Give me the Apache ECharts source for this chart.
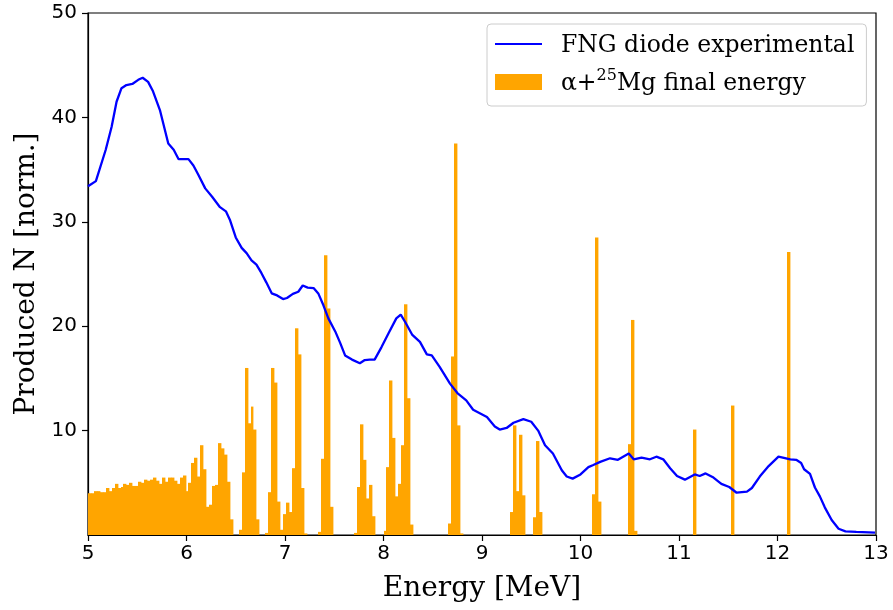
<!DOCTYPE html>
<html>
<head>
<meta charset="utf-8">
<script src="https://cdn.jsdelivr.net/npm/echarts@6/dist/echarts.min.js"></script>
<style>html,body{margin:0;padding:0;background:#fff;}#c{width:893px;height:610px;}</style>
</head>
<body>
<div id="c"></div>
<script>
// ---- Data ----
const binWidth = 0.03;
const binStart = [
  5.00, 5.03, 5.06, 5.09, 5.12, 5.15, 5.18, 5.21, 5.24, 5.27,
  5.30, 5.33, 5.36, 5.39, 5.42, 5.45, 5.48, 5.51, 5.54, 5.57,
  5.60, 5.63, 5.66, 5.69, 5.72, 5.75, 5.78, 5.81, 5.84, 5.87,
  5.90, 5.93, 5.96, 5.99, 6.02, 6.05, 6.08, 6.11, 6.14, 6.17,
  6.20, 6.23, 6.26, 6.29, 6.32, 6.35, 6.38, 6.41, 6.44,
  6.53, 6.56, 6.59, 6.62, 6.65, 6.68, 6.71,
  6.80, 6.83, 6.86, 6.89, 6.92, 6.95, 6.98, 7.01, 7.04, 7.07, 7.10, 7.13, 7.16, 7.19,
  7.34, 7.37, 7.40, 7.43, 7.46,
  7.70, 7.73, 7.76, 7.79, 7.82, 7.85, 7.88,
  8.00, 8.03, 8.06, 8.09, 8.12, 8.15, 8.18, 8.21, 8.24, 8.27,
  8.655, 8.685, 8.715, 8.745, 8.775,
  9.285, 9.315, 9.345, 9.375, 9.405,
  9.52, 9.55, 9.58,
  10.117, 10.147, 10.177,
  10.482, 10.512, 10.542,
  11.142,
  11.528,
  12.096
];
const binCounts = [
  4.0, 4.0, 4.2, 4.2, 4.1, 4.1, 4.5, 4.2, 4.5, 4.9,
  4.5, 4.6, 4.9, 4.8, 5.0, 4.7, 4.7, 5.1, 5.0, 5.3,
  5.2, 5.3, 5.5, 5.2, 4.9, 5.5, 5.1, 5.5, 5.5, 5.2,
  4.9, 5.5, 5.7, 4.2, 5.0, 6.9, 7.4, 5.6, 8.6, 6.3,
  2.7, 2.9, 4.7, 4.8, 8.8, 8.3, 7.7, 5.1, 1.5,
  0.5, 6.0, 16.0, 10.7, 12.3, 10.1, 1.5,
  0.2, 4.1, 16.0, 14.6, 3.2, 0.5, 2.0, 3.1, 2.2, 6.4, 19.8, 17.3, 4.5, 0.15,
  0.3, 7.3, 26.8, 21.7, 2.7,
  0.2, 4.6, 10.6, 7.2, 3.5, 4.8, 1.8,
  0.4, 6.5, 14.8, 9.3, 3.7, 4.9, 8.6, 22.1, 13.1, 1.0,
  1.1, 17.1, 37.5, 10.5, 0.15,
  2.2, 10.5, 4.2, 9.6, 3.8,
  1.7, 9.0, 2.2,
  3.9, 28.5, 3.2,
  8.7, 20.6, 0.4,
  10.1,
  12.4,
  27.1
];
const expEnergy = [
  5.00, 5.08, 5.18, 5.24, 5.29, 5.34, 5.39, 5.45, 5.51, 5.555,
  5.61, 5.66, 5.73, 5.815, 5.87, 5.92, 6.02, 6.07, 6.12, 6.19,
  6.26, 6.34, 6.40, 6.44, 6.50, 6.56, 6.61, 6.66, 6.71, 6.76,
  6.81, 6.865, 6.92, 6.98, 7.02, 7.08, 7.135, 7.18, 7.23, 7.29,
  7.34, 7.39, 7.44, 7.51, 7.56, 7.61, 7.68, 7.76, 7.81, 7.86,
  7.91, 7.98, 8.05, 8.13, 8.175, 8.22, 8.29, 8.37, 8.44, 8.49,
  8.57, 8.675, 8.75, 8.84, 8.91, 9.05, 9.13, 9.18, 9.25, 9.32,
  9.42, 9.50, 9.57, 9.64, 9.72, 9.81, 9.86, 9.92, 10.00, 10.08,
  10.13, 10.20, 10.30, 10.38, 10.49, 10.54, 10.62, 10.705, 10.77, 10.84,
  10.91, 10.98, 11.06, 11.16, 11.21, 11.27, 11.35, 11.43, 11.51, 11.585,
  11.69, 11.74, 11.82, 11.91, 12.01, 12.13, 12.19, 12.24, 12.27, 12.33,
  12.38, 12.43, 12.48, 12.55, 12.62, 12.69, 12.80, 12.99
];
const expCounts = [
  33.4, 33.9, 36.9, 39.1, 41.5, 42.8, 43.1, 43.2, 43.6, 43.8,
  43.4, 42.5, 40.7, 37.5, 36.9, 36.0, 36.0, 35.4, 34.5, 33.2,
  32.4, 31.4, 31.0, 30.2, 28.5, 27.5, 27.0, 26.3, 25.9, 25.1,
  24.2, 23.15, 22.95, 22.6, 22.7, 23.1, 23.3, 23.9, 23.7, 23.65,
  23.1, 22.0, 20.75, 19.5, 18.4, 17.2, 16.8, 16.45, 16.76, 16.8,
  16.8, 18.0, 19.3, 20.75, 21.1, 20.4, 19.2, 18.5, 17.3, 17.2,
  16.1, 14.5, 13.6, 12.9, 12.0, 11.3, 10.4, 10.1, 10.25, 10.75,
  11.1, 10.85, 10.0, 8.6, 7.8, 6.2, 5.6, 5.4, 5.8, 6.5,
  6.7, 7.0, 7.35, 7.2, 7.8, 7.25, 7.4, 7.25, 7.5, 7.25,
  6.4, 5.65, 5.3, 5.8, 5.65, 5.9, 5.5, 4.9, 4.6, 4.05,
  4.15, 4.5, 5.6, 6.6, 7.5, 7.25, 7.2, 6.9, 6.3, 5.85,
  4.55, 3.7, 2.65, 1.44, 0.6, 0.35, 0.29, 0.22
];
const xTicks = [5, 6, 7, 8, 9, 10, 11, 12, 13];
const yTicks = [10, 20, 30, 40, 50];
const lineName = 'FNG diode experimental';
const histName = 'α+25Mg final energy';

// ---- Chart ----
const SERIF = 'DejaVu Serif';
const SANS = 'DejaVu Sans';
const chart = echarts.init(document.getElementById('c'), null, {renderer: 'canvas'});
const option = {
  animation: false,
  backgroundColor: '#ffffff',
  grid: {left: 88, right: 17, top: 13, bottom: 75, show: true, borderColor: '#000', borderWidth: 1.2, backgroundColor: 'transparent'},
  xAxis: {
    type: 'value', min: 5, max: 13, interval: 1,
    name: 'Energy [MeV]', nameLocation: 'middle', nameGap: 40,
    nameTextStyle: {fontFamily: SERIF, fontSize: 28, color: '#000'},
    axisLine: {onZero: false, lineStyle: {color: '#000', width: 1.2}},
    axisTick: {show: true, length: 6, lineStyle: {color: '#000', width: 1.2}, customValues: xTicks},
    axisLabel: {fontFamily: SANS, fontSize: 20, color: '#000', margin: 9, customValues: xTicks},
    splitLine: {show: false}
  },
  yAxis: {
    type: 'value', min: 0, max: 50, interval: 10,
    name: 'Produced N [norm.]', nameLocation: 'middle', nameGap: 45,
    nameTextStyle: {fontFamily: SERIF, fontSize: 28, color: '#000'},
    axisLine: {show: true, lineStyle: {color: '#000', width: 1.2}},
    axisTick: {show: true, length: 6, lineStyle: {color: '#000', width: 1.2}, customValues: yTicks},
    axisLabel: {fontFamily: SANS, fontSize: 20, color: '#000', margin: 11, customValues: yTicks},
    splitLine: {show: false}
  },
  legend: {
    orient: 'vertical', left: 487, top: 24,
    itemWidth: 47, itemHeight: 16, itemGap: 10,
    padding: [10, 12, 10, 8],
    backgroundColor: 'rgba(255,255,255,0.85)', borderColor: '#cccccc', borderWidth: 1, borderRadius: 4,
    textStyle: {fontFamily: SERIF, fontSize: 23.5, color: '#000', padding: [0, 0, 0, 14],
      rich: {
        n: {fontFamily: SERIF, fontSize: 23.5, color: '#000', lineHeight: 28, verticalAlign: 'bottom'},
        s: {fontFamily: SERIF, fontSize: 16, color: '#000', lineHeight: 28, verticalAlign: 'top'}
      }},
    formatter: function (name) {
      if (name === histName) return '{n|α+}{s|25}{n|Mg final energy}';
      return '{n|' + name + '}';
    },
    data: [
      {name: lineName, icon: 'path://M0,0 M0,7.1 L47,7.1 L47,9.1 L0,9.1 Z M47,16'},
      {name: histName, icon: 'rect'}
    ]
  },
  series: [
    {
      name: histName, type: 'custom', z: 2,
      itemStyle: {color: '#ffa500'},
      encode: {x: 0, y: 1},
      data: binStart.map((s, i) => [s, binCounts[i]]),
      renderItem: function (params, api) {
        const x0 = api.value(0), h = api.value(1);
        const p0 = api.coord([x0, 0]);
        const p1 = api.coord([x0 + binWidth, h]);
        const left = Math.round(p0[0]);
        const right = Math.max(Math.round(p1[0]), left + 1);
        const shape = echarts.graphic.clipRectByRect(
          {x: left, y: p1[1], width: right - left + 0.4, height: p0[1] - p1[1]},
          {x: params.coordSys.x, y: params.coordSys.y, width: params.coordSys.width, height: params.coordSys.height});
        return shape && {type: 'rect', shape: shape, style: {fill: '#ffa500'}};
      }
    },
    {
      name: lineName, type: 'line', z: 3,
      symbol: 'none', smooth: false,
      lineStyle: {color: '#0000ff', width: 2.3},
      itemStyle: {color: '#0000ff'},
      data: expEnergy.map((e, i) => [e, expCounts[i]])
    }
  ]
};
chart.setOption(option);
</script>
</body>
</html>
